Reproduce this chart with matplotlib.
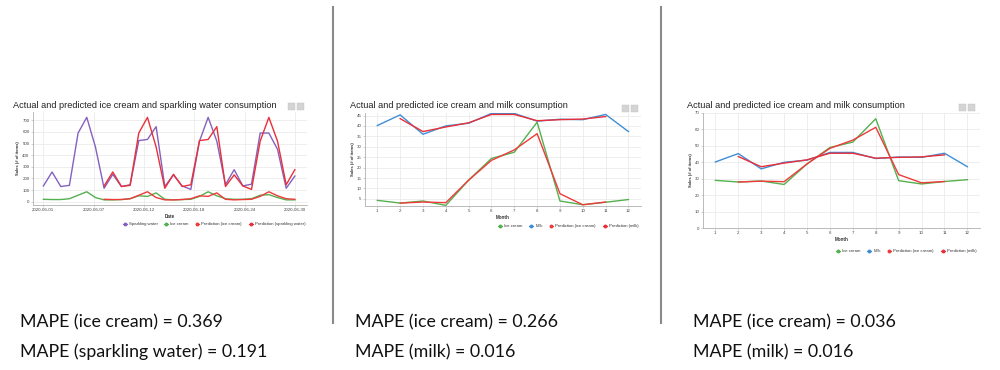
import numpy as np
import pandas as pd
import matplotlib
matplotlib.use("Agg")
import matplotlib.pyplot as plt
from matplotlib.lines import Line2D
from matplotlib.patches import Rectangle

# ---------------- data ----------------
dates1 = pd.date_range("2020-06-01", "2020-06-30", freq="D")
sparkling = [135, 255, 130, 140, 590, 725, 470, 115, 235, 130, 145, 525, 535, 645, 130,
             230, 135, 105, 520, 725, 520, 145, 275, 135, 150, 590, 590, 450, 115, 220]
icecream1 = [20, 18, 18, 25, 55, 85, 35, 15, 15, 18, 25, 50, 45, 75, 20,
             15, 18, 20, 45, 85, 50, 25, 20, 20, 25, 55, 60, 35, 15, 15]
pred_ic1 = [None] * 7 + [20, 18, 18, 25, 55, 85, 35, 15, 15, 18, 25, 50, 45, 75, 20,
                         15, 18, 20, 45, 85, 50, 25, 20]
pred_sw1 = [None] * 7 + [135, 255, 130, 140, 590, 725, 470, 115, 235, 130, 145, 525, 535, 645, 130,
                         230, 135, 105, 520, 725, 520, 145, 275]
date_labels1 = ["2020-06-01", "2020-06-07", "2020-06-12", "2020-06-18", "2020-06-24", "2020-06-30"]
yticks1 = [0, 100, 200, 300, 400, 500, 600, 700]

months = list(range(1, 13))
milk = [40.2, 45.3, 36.0, 40.0, 41.3, 46.0, 46.0, 42.3, 43.2, 43.0, 45.5, 37.3]
pred_milk = [None, 43.5, 37.3, 39.5, 41.5, 45.5, 45.5, 42.5, 43.0, 43.3, 44.5, None]
icecream2 = [4.3, 3.0, 4.0, 1.9, 14.0, 24.4, 27.4, 41.8, 4.0, 2.2, 3.4, 4.7]
pred_ic2 = [None, 3.0, 3.5, 3.2, 14.0, 23.5, 28.5, 36.3, 7.5, 2.2, 3.5, None]
yticks2 = [5, 10, 15, 20, 25, 30, 35, 40, 45]

icecream3 = [29.0, 28.0, 28.6, 26.5, 39.0, 49.0, 52.3, 66.5, 28.8, 26.8, 28.3, 29.4]
pred_ic3 = [None, 28.0, 28.5, 28.2, 39.0, 48.5, 53.5, 61.3, 32.5, 27.5, 28.3, None]
yticks3 = [0, 10, 20, 30, 40, 50, 60, 70]

title1 = "Actual and predicted ice cream and sparkling water consumption"
title2 = "Actual and predicted ice cream and milk consumption"
legend1 = ["Sparkling water", "Ice cream", "Prediction (ice cream)", "Prediction (sparkling water)"]
legend2 = ["Ice cream", "Milk", "Prediction (ice cream)", "Prediction (milk)"]
mape1 = ["MAPE (ice cream) = 0.369", "MAPE (sparkling water) = 0.191"]
mape2 = ["MAPE (ice cream) = 0.266", "MAPE (milk) = 0.016"]
mape3 = ["MAPE (ice cream) = 0.036", "MAPE (milk) = 0.016"]

# ---------------- style ----------------
PURPLE = "#8461bf"
GREEN = "#55b04f"
RED = "#ee3b3b"
RED2 = "#e8303a"
BLUE = "#3e8ed6"
GRID = "#e8e8e8"
AXC = "#b0b0b0"
TXT = "#333333"
W, H = 1000, 370

plt.rcParams["font.family"] = ["Liberation Sans", "DejaVu Sans"]
fig = plt.figure(figsize=(10, 3.7), dpi=100)
fig.patch.set_facecolor("white")


def fx(px):
    return px / W


def fy(py):
    return 1 - py / H


def make_ax(left, top, right, bottom):
    ax = fig.add_axes([fx(left), fy(bottom), (right - left) / W, (bottom - top) / H])
    ax.set_facecolor("white")
    for s in ["top", "right"]:
        ax.spines[s].set_visible(False)
    for s in ["left", "bottom"]:
        ax.spines[s].set_color(AXC)
        ax.spines[s].set_linewidth(0.6)
    ax.grid(True, color=GRID, lw=0.5)
    ax.set_axisbelow(True)
    ax.tick_params(labelsize=3.2, length=1.2, width=0.4, color=AXC, pad=1.2, labelcolor="#444444")
    return ax


def arr(v):
    return np.array([np.nan if x is None else x for x in v], dtype=float)


def legend(ax, labels, colors, right_px, y_px):
    handles = [Line2D([], [], color=c, lw=0.8, marker="o", markersize=1.8) for c in colors]
    ax.legend(handles, labels, ncol=4, loc="center right",
              bbox_to_anchor=(fx(right_px), fy(y_px)), bbox_transform=fig.transFigure,
              frameon=False, fontsize=3.05, handlelength=0.9, handletextpad=0.5,
              columnspacing=1.6, labelcolor="#333333", borderaxespad=0)


def buttons(x_px, y_px):
    for dx in (0, 9):
        fig.patches.append(Rectangle((fx(x_px + dx), fy(y_px + 7)), 7 / W, 7 / H,
                                     transform=fig.transFigure, facecolor="#d4d4d4",
                                     edgecolor="#c4c4c4", lw=0.3))

LW = 1.0

# ---------------- chart 1 ----------------
ax1 = make_ax(33, 112, 307, 205)
x1 = np.arange(len(dates1))
ax1.plot(x1, sparkling, color=PURPLE, lw=LW)
ax1.plot(x1, icecream1, color=GREEN, lw=LW)
ax1.plot(x1, arr(pred_ic1), color=RED, lw=LW)
ax1.plot(x1, arr(pred_sw1), color=RED2, lw=LW)
ax1.set_xlim(-1.2, 30.4)
ax1.set_ylim(-29, 771)
ax1.set_yticks(yticks1)
ax1.set_xticks(np.linspace(0, len(dates1) - 1, len(date_labels1)))
ax1.set_xticklabels(date_labels1)
ax1.set_xlabel("Date", fontsize=3.3, fontweight="bold", labelpad=1.5, color=TXT)
ax1.set_ylabel("Sales (# of items)", fontsize=3.0, fontweight="bold", labelpad=1.5, color=TXT)
fig.text(fx(13), fy(105), title1, fontsize=6.6, va="center", ha="left", color="#222222")
legend(ax1, legend1, [PURPLE, GREEN, RED, RED2], 307, 224)
buttons(288, 103)

# ---------------- chart 2 ----------------
ax2 = make_ax(365, 113, 641, 206)
ax2.plot(months, icecream2, color=GREEN, lw=LW)
ax2.plot(months, milk, color=BLUE, lw=LW)
ax2.plot(months, arr(pred_ic2), color=RED, lw=LW)
ax2.plot(months, arr(pred_milk), color=RED2, lw=LW)
ax2.set_xlim(0.46, 12.55)
ax2.set_ylim(1.6, 46.2)
ax2.set_yticks(yticks2)
ax2.set_xticks(months)
ax2.set_xlabel("Month", fontsize=3.3, fontweight="bold", labelpad=1.5, color=TXT)
ax2.set_ylabel("Sales (# of items)", fontsize=3.0, fontweight="bold", labelpad=1.5, color=TXT)
fig.text(fx(350), fy(106), title2, fontsize=6.6, va="center", ha="left", color="#222222")
legend(ax2, legend2, [GREEN, BLUE, RED, RED2], 640, 226)
buttons(622, 105)

# ---------------- chart 3 ----------------
ax3 = make_ax(703, 113, 980, 228)
ax3.plot(months, icecream3, color=GREEN, lw=LW)
ax3.plot(months, milk, color=BLUE, lw=LW)
ax3.plot(months, arr(pred_ic3), color=RED, lw=LW)
ax3.plot(months, arr(pred_milk), color=RED2, lw=LW)
ax3.set_xlim(0.46, 12.55)
ax3.set_ylim(0, 70)
ax3.set_yticks(yticks3)
ax3.set_xticks(months)
ax3.set_xlabel("Month", fontsize=3.3, fontweight="bold", labelpad=1.5, color=TXT)
ax3.set_ylabel("Sales (# of items)", fontsize=3.0, fontweight="bold", labelpad=1.5, color=TXT)
fig.text(fx(687), fy(105), title2, fontsize=6.6, va="center", ha="left", color="#222222")
legend(ax3, legend2, [GREEN, BLUE, RED, RED2], 978, 251)
buttons(959, 104)

# ---------------- separators ----------------
for xs in (333, 661):
    fig.add_artist(Line2D([fx(xs), fx(xs)], [fy(7), fy(323)], transform=fig.transFigure,
                          color="#8a8a8a", lw=1.5))

# ---------------- MAPE text ----------------
for xpos, lines in ((20, mape1), (355, mape2), (693, mape3)):
    for i, t in enumerate(lines):
        fig.text(fx(xpos), fy(322 + 30 * i), t, fontsize=12.8, va="center", ha="left",
                 family=["Lato", "DejaVu Sans"], color="#111111")

fig.savefig("out.png", dpi=100, facecolor="white")
